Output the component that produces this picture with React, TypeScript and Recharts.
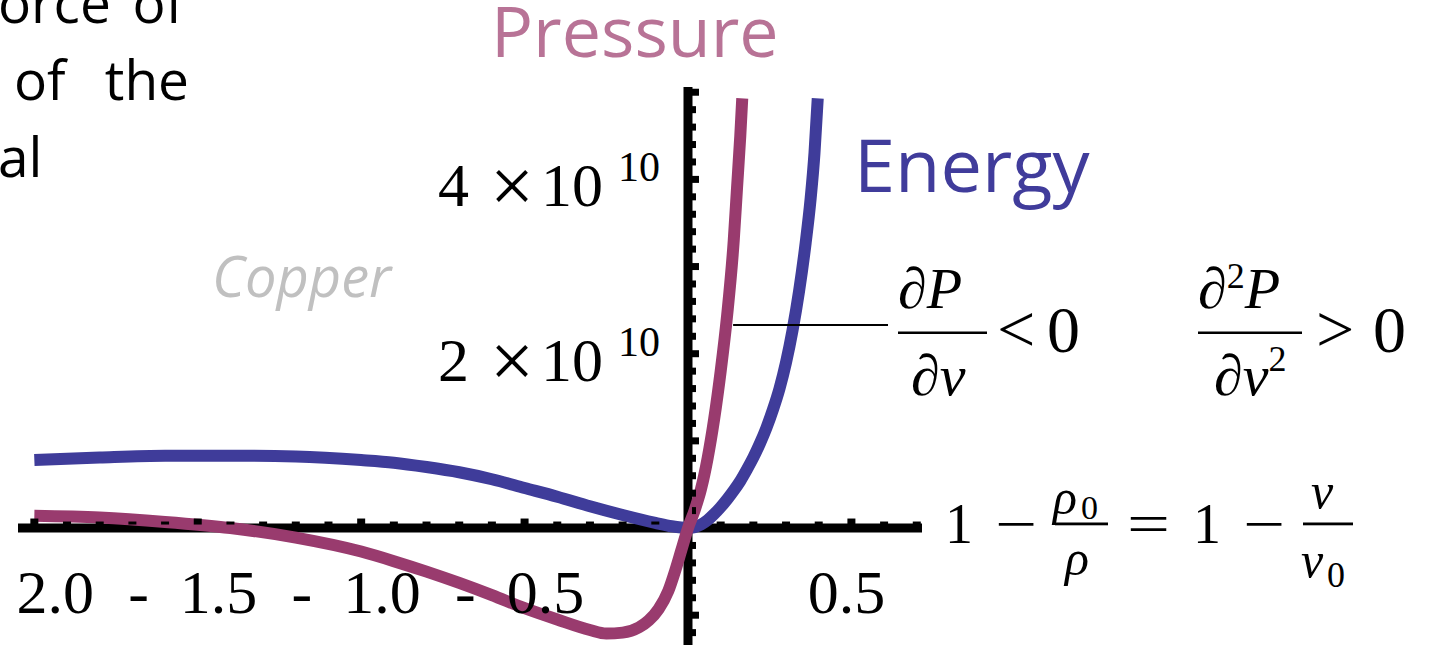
import { LineChart, Line, XAxis, YAxis, ReferenceLine, ReferenceDot } from 'recharts';

// compression 1 - v/v0 for each curve, pressure/energy in units of 10^10
const PRESSURE_X = [-2.0, -1.8, -1.6, -1.4, -1.2, -1.0, -0.9, -0.8, -0.7, -0.6, -0.5, -0.4, -0.3, -0.25, -0.2, -0.15, -0.12, -0.09, -0.06, -0.04, -0.02, 0, 0.02, 0.04, 0.06, 0.08, 0.10, 0.12, 0.14, 0.15, 0.16, 0.166];
const PRESSURE = [0.14, 0.12, 0.07, 0.0, -0.11, -0.27, -0.38, -0.50, -0.63, -0.77, -0.92, -1.05, -1.17, -1.21, -1.2, -1.14, -1.06, -0.93, -0.72, -0.5, -0.25, 0, 0.2, 0.45, 0.8, 1.25, 1.8, 2.45, 3.3, 3.9, 4.5, 4.93];

const ENERGY_X = [-2.0, -1.8, -1.6, -1.4, -1.2, -1.0, -0.9, -0.8, -0.7, -0.6, -0.5, -0.4, -0.3, -0.2, -0.1, -0.05, 0, 0.02, 0.04, 0.06, 0.08, 0.10, 0.12, 0.14, 0.16, 0.18, 0.20, 0.22, 0.24, 0.26, 0.28, 0.30, 0.32, 0.34, 0.36, 0.375, 0.387, 0.397];
const ENERGY = [0.78, 0.81, 0.83, 0.83, 0.82, 0.78, 0.75, 0.70, 0.64, 0.56, 0.46, 0.36, 0.25, 0.15, 0.06, 0.02, 0, 0.01, 0.04, 0.09, 0.16, 0.24, 0.33, 0.43, 0.54, 0.67, 0.81, 0.97, 1.15, 1.36, 1.60, 1.90, 2.27, 2.72, 3.27, 3.77, 4.30, 4.93];

const X_MAJOR = [-2, -1.5, -1, -0.5, 0.5];
const Y_MAJOR = [-1, 1, 2, 3, 4, 5];
const Y_LABELS = [2, 4];

const PRESSURE_COLOR = '#993b6e';
const ENERGY_COLOR = '#3f3c9a';
const SERIF = '"Liberation Serif", "Times New Roman", serif';
const SANS = '"Open Sans", sans-serif';

const pressureData = PRESSURE_X.map((x, i) => ({ x, p: PRESSURE[i] }));
const energyData = ENERGY_X.map((x, i) => ({ x, e: ENERGY[i] }));

// minor ticks every 0.1 on x and 0.2 on y
const minorX: number[] = [];
for (let i = -20; i <= 7; i++) if (i !== 0 && i % 5 !== 0) minorX.push(i / 10);
const minorY: number[] = [];
for (let i = -6; i <= 25; i++) if (i !== 0 && i % 5 !== 0) minorY.push(i / 5);

const xTick = (h: number) => (p: any) => (
  <rect x={p.cx - 4} y={p.cy - 4.5 - h} width={8} height={h + 1} fill="#000" />
);
const yTick = (w: number) => (p: any) => (
  <rect x={p.cx + 4} y={p.cy - 3.5} width={w + 1} height={7} fill="#000" />
);

const xLabel = (v: number) => (p: any) => (
  <text x={p.cx - 5} y={p.cy + 85} textAnchor="middle" style={{ whiteSpace: 'pre' }} fontFamily={SERIF} fontSize={62} fill="#000">
    {v < 0 ? `-  ${Math.abs(v).toFixed(1)}` : v.toFixed(1)}
  </text>
);

const yLabel = (v: number) => (p: any) => (
  <g fontFamily={SERIF} fill="#000">
    <text x={p.cx - 250} y={p.cy + 27} fontSize={62}>{v}</text>
    <text x={p.cx - 198} y={p.cy + 33} fontSize={78}>×</text>
    <text x={p.cx - 147} y={p.cy + 27} fontSize={62}>10</text>
    <text x={p.cx - 70} y={p.cy + 2} fontSize={42}>10</text>
  </g>
);

function Annotations() {
  return (
    <svg width={1448} height={649} style={{ position: 'absolute', left: 0, top: 0, pointerEvents: 'none' }}>
      {/* cut-off paragraph on the left (justified lines) */}
      <g fontFamily={SANS} fontSize={55} fill="#000">
        <text x={-2} y={23}>orce</text>
        <text x={184} y={23} textAnchor="end">of</text>
        <text x={14} y={100}>of</text>
        <text x={189} y={100} textAnchor="end">the</text>
        <text x={-2} y={177}>al</text>
      </g>

      <text x={491} y={57} fontFamily={SANS} fontSize={70} fill="#b87396">Pressure</text>
      <text x={854} y={192} fontFamily={SANS} fontSize={74} fill="#403c9b">Energy</text>
      <text x={212} y={297} fontFamily={SANS} fontSize={56} fontStyle="italic" fill="#c0c0c0">Copper</text>

      {/* dP/dv < 0 */}
      <g fontFamily={SERIF} fill="#000">
        <text x={898} y={308} fontSize={58} fontStyle="italic">∂P</text>
        <rect x={898} y={331.5} width={89} height={2.5} />
        <text x={911} y={395} fontSize={58} fontStyle="italic">∂v</text>
        <text x={997} y={352} fontSize={68}>&lt;</text>
        <text x={1047} y={352} fontSize={66}>0</text>
      </g>

      {/* d2P/dv2 > 0 */}
      <g fontFamily={SERIF} fill="#000">
        <text x={1198} y={308} fontSize={58} fontStyle="italic">
          ∂<tspan fontSize={36} fontStyle="normal" dy={-20}>2</tspan>
          <tspan dy={20}>P</tspan>
        </text>
        <rect x={1198} y={331.5} width={104} height={2.5} />
        <text x={1214} y={395} fontSize={58} fontStyle="italic">
          ∂v<tspan fontSize={36} fontStyle="normal" dy={-24}>2</tspan>
        </text>
        <text x={1316} y={352} fontSize={68}>&gt;</text>
        <text x={1373} y={352} fontSize={66}>0</text>
      </g>

      {/* 1 - rho0/rho = 1 - v/v0 */}
      <g fontFamily={SERIF} fill="#000">
        <text x={945} y={543} fontSize={56}>1</text>
        <text x={995} y={543} fontSize={56} textLength={42} lengthAdjust="spacingAndGlyphs">−</text>
        <text x={1053} y={514} fontSize={50} fontStyle="italic">ρ</text>
        <text x={1081} y={519} fontSize={34}>0</text>
        <rect x={1055} y={522.5} width={53} height={2.8} />
        <text x={1065} y={575} fontSize={50} fontStyle="italic">ρ</text>
        <text x={1127} y={543} fontSize={56} textLength={43} lengthAdjust="spacingAndGlyphs">=</text>
        <text x={1193} y={543} fontSize={56}>1</text>
        <text x={1243} y={543} fontSize={56} textLength={42} lengthAdjust="spacingAndGlyphs">−</text>
        <rect x={1303} y={522.5} width={50} height={2.8} />
        <text x={1311} y={508} fontSize={50} fontStyle="italic">v</text>
        <text x={1301} y={577} fontSize={50} fontStyle="italic">v</text>
        <text x={1327} y={587} fontSize={36}>0</text>
      </g>
    </svg>
  );
}

export default function App() {
  return (
    <div style={{ position: 'absolute', left: 0, top: 0, width: 1448, height: 649, background: '#fff', overflow: 'hidden' }}>
      <LineChart width={1448} height={649} margin={{ top: 87, right: 526, bottom: 4, left: 18 }}>
        <XAxis type="number" dataKey="x" domain={[-2.05, 0.716]} allowDataOverflow hide />
        <YAxis type="number" domain={[-1.342, 5.06]} allowDataOverflow hide />

        {/* axes through the origin */}
        <ReferenceLine y={0} stroke="#000" strokeWidth={9} />
        <ReferenceLine x={0} stroke="#000" strokeWidth={9} />

        {minorX.map(t => <ReferenceDot key={`mx${t}`} x={t} y={0} shape={xTick(2)} />)}
        {X_MAJOR.map(t => <ReferenceDot key={`Mx${t}`} x={t} y={0} shape={xTick(5)} />)}
        {minorY.map(t => <ReferenceDot key={`my${t}`} x={0} y={t} shape={yTick(3)} />)}
        {Y_MAJOR.map(t => <ReferenceDot key={`My${t}`} x={0} y={t} shape={yTick(6)} />)}
        {X_MAJOR.map(t => <ReferenceDot key={`lx${t}`} x={t} y={0} shape={xLabel(t)} />)}
        {Y_LABELS.map(t => <ReferenceDot key={`ly${t}`} x={0} y={t} shape={yLabel(t)} />)}

        <Line data={energyData} dataKey="e" type="monotone" stroke={ENERGY_COLOR} strokeWidth={12} dot={false} isAnimationActive={false} />
        <Line data={pressureData} dataKey="p" type="monotone" stroke={PRESSURE_COLOR} strokeWidth={12} dot={false} isAnimationActive={false} />

        {/* pointer to the dP/dv annotation */}
        <ReferenceLine segment={[{ x: 0.138, y: 2.33 }, { x: 0.612, y: 2.33 }]} stroke="#000" strokeWidth={2} />
      </LineChart>
      <Annotations />
    </div>
  );
}
